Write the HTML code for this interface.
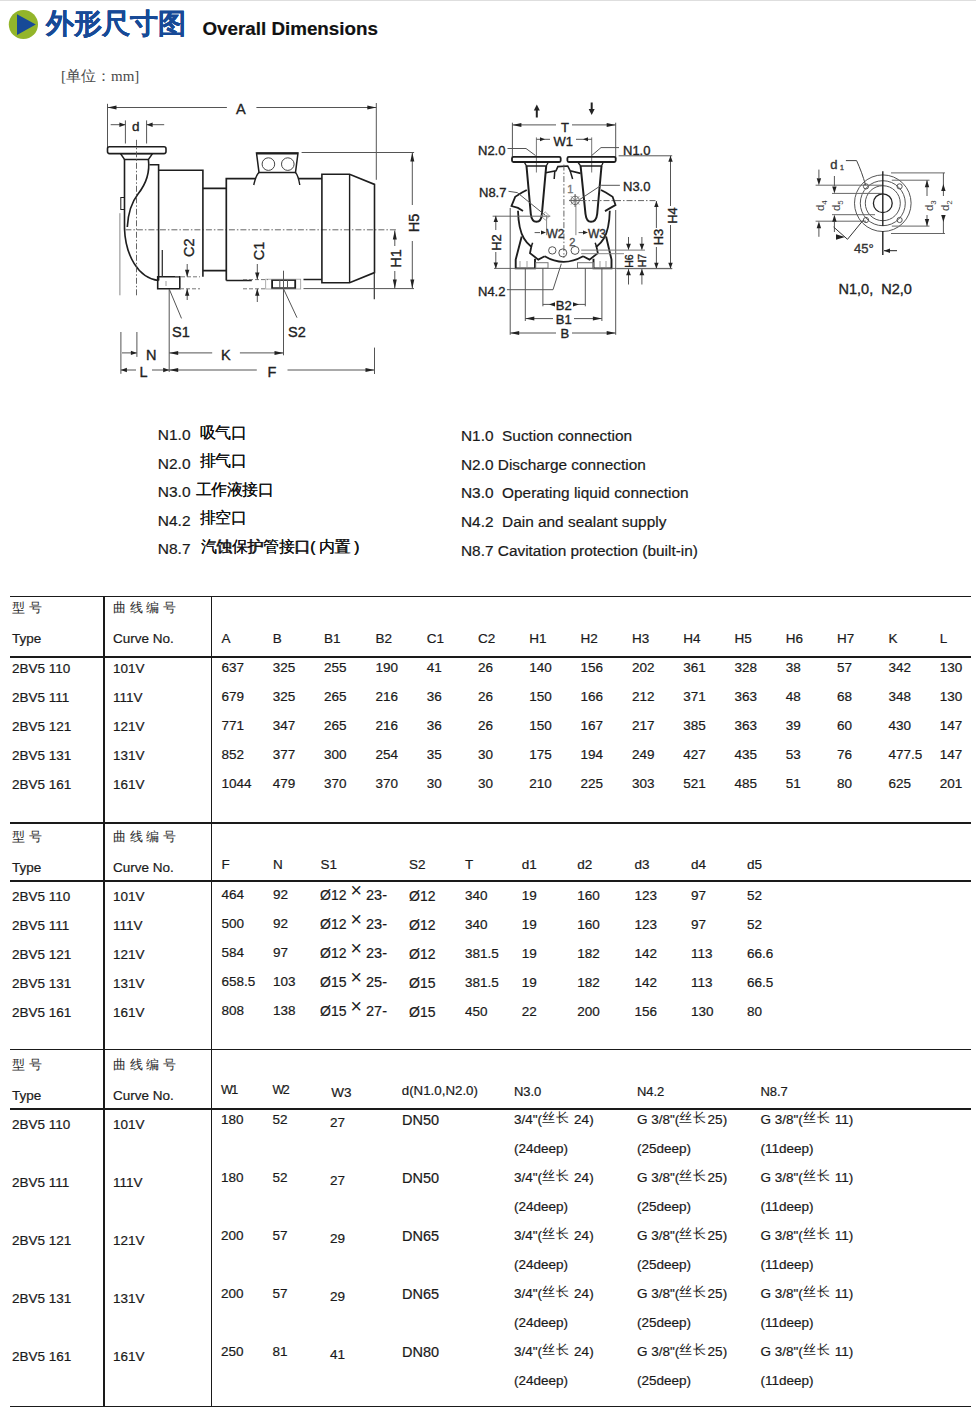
<!DOCTYPE html>
<html><head><meta charset="utf-8"><style>
html,body{margin:0;padding:0;background:#fff;}
body{width:976px;height:1417px;position:relative;overflow:hidden;font-family:"Liberation Sans",sans-serif;color:#1a1a1a;}
.t{position:absolute;white-space:nowrap;line-height:1;-webkit-text-stroke-width:0.2px;}
.l{position:absolute;}
.abs{position:absolute;}
</style></head><body>
<svg class="abs" style="left:0;top:0" width="976" height="400" font-family="Liberation Sans, sans-serif"><line x1="107.5" y1="103.8" x2="107.5" y2="147" stroke="#555" stroke-width="1.0"/><line x1="376.3" y1="103" x2="376.3" y2="179.8" stroke="#555" stroke-width="1.0"/><line x1="107.5" y1="107.5" x2="226.9" y2="107.5" stroke="#555" stroke-width="1.0"/><line x1="256.4" y1="107.5" x2="376.3" y2="107.5" stroke="#555" stroke-width="1.0"/><polygon points="107.5,107.5 116.5,105.5 116.5,109.5" fill="#222"/><polygon points="376.3,107.5 367.3,105.5 367.3,109.5" fill="#222"/><text x="236" y="113.5" font-size="14.5" fill="#222" stroke="#222" stroke-width="0.35" text-anchor="start">A</text><line x1="125.4" y1="120.4" x2="125.4" y2="143.5" stroke="#555" stroke-width="1.0"/><line x1="146.6" y1="120.4" x2="146.6" y2="143.5" stroke="#555" stroke-width="1.0"/><line x1="110.7" y1="124.7" x2="125.4" y2="124.7" stroke="#555" stroke-width="1.0"/><line x1="146.6" y1="124.7" x2="164.2" y2="124.7" stroke="#555" stroke-width="1.0"/><polygon points="125.4,124.7 119.4,122.5 119.4,126.9" fill="#222"/><polygon points="146.6,124.7 152.6,122.5 152.6,126.9" fill="#222"/><text x="132" y="131.3" font-size="13.5" fill="#222" stroke="#222" stroke-width="0.35" text-anchor="start">d</text><rect x="107.5" y="146.8" width="58.50" height="6.80" rx="2" stroke="#1e1e1e" stroke-width="1.6" fill="none"/><path d="M120.5 153.6 L152.5 153.6 L148.4 159.5 L124.6 159.5 Z" stroke="#1e1e1e" stroke-width="1.4" fill="none" /><path d="M124.5 159 L124.5 228.9 C 125.5 255, 138 278, 158.6 280.5" stroke="#1e1e1e" stroke-width="1.6" fill="none" /><path d="M148.4 159.5 C 150 172, 146 184, 138 194 C 131 203, 128 214, 127.3 227" stroke="#1e1e1e" stroke-width="1.6" fill="none" /><rect x="120.8" y="197.5" width="3.70" height="12.00" rx="0" stroke="#1e1e1e" stroke-width="1.0" fill="none"/><line x1="119.9" y1="213.2" x2="119.9" y2="295.3" stroke="#888" stroke-width="1.0"/><line x1="136.5" y1="139.8" x2="136.5" y2="296" stroke="#555" stroke-width="0.9" stroke-dasharray="6 2 1.5 2"/><line x1="125.4" y1="229.8" x2="397.5" y2="229.8" stroke="#666" stroke-width="1.0" stroke-dasharray="6 2 1.5 2"/><path d="M149.5 164.7 L158.6 164.7 L158.6 280.5" stroke="#1e1e1e" stroke-width="1.6" fill="none" /><path d="M158.6 170.2 L202.9 170.2 L202.9 276.8" stroke="#1e1e1e" stroke-width="1.6" fill="none" /><path d="M202.9 188.3 L226.3 188.3 M202.9 270.7 L226.3 270.7" stroke="#1e1e1e" stroke-width="1.8" fill="none" /><path d="M226.3 280.5 L226.3 178.7 L256 178.7 M298 178.7 L321.9 178.7" stroke="#1e1e1e" stroke-width="1.7" fill="none" /><path d="M226.3 280.5 L251.8 280.5 M303.5 279.5 L321.9 279.5" stroke="#1e1e1e" stroke-width="1.7" fill="none" /><path d="M256.5 153 L298 153 L295.5 172.4 L259 172.4 Z" stroke="#1e1e1e" stroke-width="1.5" fill="none" /><line x1="256.5" y1="153.5" x2="298" y2="153.5" stroke="#1e1e1e" stroke-width="2.2"/><circle cx="268.4" cy="164.1" r="6.3" stroke="#444" stroke-width="1.0" fill="none"/><circle cx="287.8" cy="164.1" r="6.3" stroke="#444" stroke-width="1.0" fill="none"/><path d="M259 172.4 C 256 175, 255 180, 253.7 185 M295.5 172.4 C 298 175, 299 180, 299.8 185" stroke="#1e1e1e" stroke-width="1.4" fill="none" /><path d="M321.9 174.3 L349.6 174.3 L374.5 184.4 L374.5 272.6 L349.6 282.7 L321.9 282.7 Z" stroke="#1e1e1e" stroke-width="1.6" fill="none" /><line x1="349.6" y1="174.3" x2="349.6" y2="282.7" stroke="#1e1e1e" stroke-width="1.4"/><line x1="374.3" y1="272.6" x2="374.3" y2="299.3" stroke="#333" stroke-width="1.2"/><path d="M157.7 276.8 L179.8 276.8 L179.8 288.8 L157.7 288.8 Z" stroke="#1e1e1e" stroke-width="1.6" fill="none" /><line x1="162.3" y1="250" x2="162.3" y2="276.8" stroke="#333" stroke-width="1.3"/><line x1="166" y1="281" x2="166" y2="286" stroke="#888" stroke-width="0.8"/><rect x="272.1" y="280" width="23.10" height="8.20" rx="0" stroke="#1e1e1e" stroke-width="1.8" fill="none"/><line x1="279.8" y1="280" x2="279.8" y2="288.2" stroke="#555" stroke-width="1.0"/><line x1="287.5" y1="280" x2="287.5" y2="288.2" stroke="#555" stroke-width="1.0"/><rect x="265.7" y="279.2" width="35.00" height="9.80" rx="0" stroke="#999" stroke-width="0.8" fill="none"/><line x1="303.5" y1="288.6" x2="414" y2="288.6" stroke="#555" stroke-width="1.0"/><line x1="175" y1="276.8" x2="200" y2="276.8" stroke="#777" stroke-width="1.0" stroke-dasharray="4 2"/><line x1="180" y1="288.8" x2="200" y2="288.8" stroke="#777" stroke-width="1.0" stroke-dasharray="4 2"/><line x1="243" y1="279.6" x2="268" y2="279.6" stroke="#777" stroke-width="1.0" stroke-dasharray="4 2"/><line x1="243" y1="288.8" x2="265" y2="288.8" stroke="#777" stroke-width="1.0" stroke-dasharray="4 2"/><line x1="301.6" y1="152.5" x2="414.1" y2="152.5" stroke="#555" stroke-width="1.0"/><line x1="412.3" y1="152.5" x2="412.3" y2="205" stroke="#555" stroke-width="1.0"/><line x1="412.3" y1="241" x2="412.3" y2="288.6" stroke="#555" stroke-width="1.0"/><polygon points="412.3,152.5 410.3,161.5 414.3,161.5" fill="#222"/><polygon points="412.3,288.6 410.3,279.6 414.3,279.6" fill="#222"/><text x="413.5" y="223" font-size="14.5" fill="#222" stroke="#222" stroke-width="0.35" text-anchor="middle" transform="rotate(-90 413.5 223) translate(0 5.3)">H5</text><line x1="394.8" y1="230.5" x2="394.8" y2="246" stroke="#555" stroke-width="1.0"/><line x1="394.8" y1="271" x2="394.8" y2="288.6" stroke="#555" stroke-width="1.0"/><polygon points="394.8,230.5 392.8,239.5 396.8,239.5" fill="#222"/><polygon points="394.8,288.6 392.8,279.6 396.8,279.6" fill="#222"/><text x="396" y="258.5" font-size="14.5" fill="#222" stroke="#222" stroke-width="0.35" text-anchor="middle" transform="rotate(-90 396 258.5) translate(0 5.3)">H1</text><text x="188.8" y="247.7" font-size="14.5" fill="#222" stroke="#222" stroke-width="0.35" text-anchor="middle" transform="rotate(-90 188.8 247.7) translate(0 5.3)">C2</text><line x1="187.2" y1="264" x2="187.2" y2="276.8" stroke="#555" stroke-width="1.0"/><polygon points="187.2,276.8 185.0,269.8 189.4,269.8" fill="#222"/><line x1="187.2" y1="288.8" x2="187.2" y2="300" stroke="#555" stroke-width="1.0"/><polygon points="187.2,288.8 185.0,295.8 189.4,295.8" fill="#222"/><text x="258.5" y="251" font-size="14.5" fill="#222" stroke="#222" stroke-width="0.35" text-anchor="middle" transform="rotate(-90 258.5 251) translate(0 5.3)">C1</text><line x1="257.3" y1="264" x2="257.3" y2="279.6" stroke="#555" stroke-width="1.0"/><polygon points="257.3,279.6 255.1,272.6 259.5,272.6" fill="#222"/><line x1="257.3" y1="288.8" x2="257.3" y2="302" stroke="#555" stroke-width="1.0"/><polygon points="257.3,288.8 255.1,295.8 259.5,295.8" fill="#222"/><line x1="169.2" y1="289" x2="169.2" y2="372" stroke="#555" stroke-width="1.0"/><line x1="169.2" y1="289" x2="181.5" y2="318.4" stroke="#555" stroke-width="1.0"/><text x="172" y="336.6" font-size="14.5" fill="#222" stroke="#222" stroke-width="0.35" text-anchor="start">S1</text><line x1="283.5" y1="270.7" x2="283.5" y2="355.3" stroke="#555" stroke-width="1.0"/><line x1="283.2" y1="288.2" x2="297" y2="317.7" stroke="#555" stroke-width="1.0"/><text x="288" y="336.6" font-size="14.5" fill="#222" stroke="#222" stroke-width="0.35" text-anchor="start">S2</text><line x1="120.9" y1="332" x2="120.9" y2="373.8" stroke="#555" stroke-width="1.0"/><line x1="136.9" y1="332" x2="136.9" y2="356.9" stroke="#555" stroke-width="1.0"/><line x1="122" y1="352.9" x2="136.9" y2="352.9" stroke="#555" stroke-width="1.0"/><polygon points="136.9,352.9 130.9,350.7 130.9,355.1" fill="#222"/><text x="146" y="359.6" font-size="14.5" fill="#222" stroke="#222" stroke-width="0.35" text-anchor="start">N</text><line x1="169.2" y1="352.9" x2="212.2" y2="352.9" stroke="#555" stroke-width="1.0"/><polygon points="169.2,352.9 178.2,350.9 178.2,354.9" fill="#222"/><line x1="239.9" y1="352.9" x2="283.5" y2="352.9" stroke="#555" stroke-width="1.0"/><polygon points="283.5,352.9 274.5,350.9 274.5,354.9" fill="#222"/><text x="221" y="359.6" font-size="14.5" fill="#222" stroke="#222" stroke-width="0.35" text-anchor="start">K</text><line x1="120.9" y1="370" x2="136" y2="370" stroke="#555" stroke-width="1.0"/><line x1="152" y1="370" x2="169.2" y2="370" stroke="#555" stroke-width="1.0"/><polygon points="120.9,370.0 126.9,367.8 126.9,372.2" fill="#222"/><polygon points="169.2,370.0 163.2,367.8 163.2,372.2" fill="#222"/><text x="139.5" y="376.6" font-size="14.5" fill="#222" stroke="#222" stroke-width="0.35" text-anchor="start">L</text><line x1="169.2" y1="370" x2="256.8" y2="370" stroke="#555" stroke-width="1.0"/><line x1="287.5" y1="370" x2="374.5" y2="370" stroke="#555" stroke-width="1.0"/><polygon points="169.2,370.0 178.2,368.0 178.2,372.0" fill="#222"/><polygon points="374.5,370.0 365.5,368.0 365.5,372.0" fill="#222"/><line x1="374.5" y1="347.6" x2="374.5" y2="374" stroke="#555" stroke-width="1.0"/><text x="267.5" y="376.6" font-size="14.5" fill="#222" stroke="#222" stroke-width="0.35" text-anchor="start">F</text><line x1="536.8" y1="108" x2="536.8" y2="117.5" stroke="#222" stroke-width="2.0"/><polygon points="536.8,104.5 533.8,110.5 539.8,110.5" fill="#222"/><line x1="591.7" y1="102.5" x2="591.7" y2="111" stroke="#222" stroke-width="2.0"/><polygon points="591.7,115.0 588.7,109.0 594.7,109.0" fill="#222"/><line x1="512.4" y1="122.7" x2="512.4" y2="156.8" stroke="#555" stroke-width="1.0"/><line x1="615.7" y1="122.7" x2="615.7" y2="159" stroke="#555" stroke-width="1.0"/><line x1="512.4" y1="124.9" x2="556" y2="124.9" stroke="#555" stroke-width="1.0"/><line x1="572" y1="124.9" x2="615.7" y2="124.9" stroke="#555" stroke-width="1.0"/><polygon points="512.4,124.9 521.4,122.9 521.4,126.9" fill="#222"/><polygon points="615.7,124.9 606.7,122.9 606.7,126.9" fill="#222"/><text x="561" y="132.2" font-size="13" fill="#222" stroke="#222" stroke-width="0.35" text-anchor="start">T</text><line x1="536.4" y1="137.4" x2="536.4" y2="172.5" stroke="#666" stroke-width="0.9"/><line x1="591.7" y1="137.4" x2="591.7" y2="172.5" stroke="#666" stroke-width="0.9"/><line x1="536.4" y1="139.3" x2="550" y2="139.3" stroke="#555" stroke-width="1.0"/><line x1="576" y1="139.3" x2="591.7" y2="139.3" stroke="#555" stroke-width="1.0"/><polygon points="545.0,139.3 540.0,137.3 540.0,141.3" fill="#222"/><polygon points="583.0,139.3 588.0,137.3 588.0,141.3" fill="#222"/><text x="553.5" y="146.0" font-size="13" fill="#222" stroke="#222" stroke-width="0.35" text-anchor="start">W1</text><text x="478" y="155.2" font-size="13" fill="#222" stroke="#222" stroke-width="0.35" text-anchor="start">N2.0</text><line x1="507.5" y1="148.5" x2="526" y2="148.5" stroke="#555" stroke-width="1.0"/><line x1="526" y1="148.5" x2="535.5" y2="155.5" stroke="#555" stroke-width="1.0"/><text x="623" y="155.2" font-size="13" fill="#222" stroke="#222" stroke-width="0.35" text-anchor="start">N1.0</text><line x1="619" y1="147.6" x2="601" y2="147.6" stroke="#555" stroke-width="1.0"/><line x1="601" y1="147.6" x2="591.7" y2="155.5" stroke="#555" stroke-width="1.0"/><rect x="512" y="156.8" width="48.70" height="5.20" rx="1.5" stroke="#1e1e1e" stroke-width="1.8" fill="none"/><rect x="567.4" y="156.8" width="48.30" height="5.20" rx="1.5" stroke="#1e1e1e" stroke-width="1.8" fill="none"/><line x1="618.6" y1="155.8" x2="672.2" y2="155.8" stroke="#555" stroke-width="1.0"/><path d="M524 161.7 L548.6 161.7 L546.2 166 L526.5 166 Z" stroke="#1e1e1e" stroke-width="1.3" fill="none" /><path d="M526.5 166 L530.8 214 C 531.5 220, 534 221.8, 536.4 221.8 C 539 221.8, 541.5 220, 541.9 214 L546.2 166" stroke="#1e1e1e" stroke-width="2.0" fill="none" /><path d="M580.6 166 L585.5 214 C 586.2 220, 588.5 221.8, 591 221.8 C 593.5 221.8, 596.5 220, 597.2 214 L601.5 166" stroke="#1e1e1e" stroke-width="2.0" fill="none" /><path d="M577.5 161.7 L603.5 161.7 L601.5 166 L580.6 166 Z" stroke="#1e1e1e" stroke-width="1.3" fill="none" /><path d="M526.8 190 L522 192.5 L515.2 196.8 L511.5 206 L518 207.9 L523 211.1" stroke="#1e1e1e" stroke-width="1.8" fill="none" /><path d="M518 210.7 C 518.3 222, 520 232, 524 238.5 C 526 242, 528.5 244.5, 531.3 246.7 L 530 253.1 L 538.3 259.6 L 544.7 256.3" stroke="#1e1e1e" stroke-width="1.8" fill="none" /><line x1="531.3" y1="246.7" x2="532.6" y2="242.8" stroke="#1e1e1e" stroke-width="1.5"/><path d="M601 190 L605.8 192.5 L612.6 196.8 L615.5 205 L610.5 207.9 L605 211.1" stroke="#1e1e1e" stroke-width="1.8" fill="none" /><path d="M609.8 210.7 C 609.5 222, 607.8 232, 603.8 238.5 C 601.8 242, 599.3 244.5, 596.5 246.7 L 597.8 253.1 L 589.5 259.6 L 583.1 256.3" stroke="#1e1e1e" stroke-width="1.8" fill="none" /><line x1="596.5" y1="246.7" x2="595.2" y2="242.8" stroke="#1e1e1e" stroke-width="1.5"/><path d="M545.6 172.7 L556 170.9 L557.9 166.6 L567.7 166 L570.2 170.9 L580.6 173.4" stroke="#1e1e1e" stroke-width="1.6" fill="none" /><line x1="554.8" y1="170.9" x2="554.2" y2="179" stroke="#1e1e1e" stroke-width="1.5"/><line x1="570.2" y1="170.9" x2="572.6" y2="179" stroke="#1e1e1e" stroke-width="1.5"/><path d="M544.7 256.3 Q 563.5 267.5 583.1 256.3" stroke="#1e1e1e" stroke-width="1.8" fill="none" /><path d="M521.7 236.5 L515.7 259.6 L515.7 268.4 L535 268.4 L535 258.7" stroke="#1e1e1e" stroke-width="1.9" fill="none" /><path d="M606.1 236.5 L611.5 259.6 L611.5 268.4 L593.5 268.4 L593.5 258.7" stroke="#1e1e1e" stroke-width="1.9" fill="none" /><line x1="520" y1="261" x2="520" y2="267" stroke="#888" stroke-width="0.8"/><line x1="527" y1="261" x2="527" y2="267" stroke="#888" stroke-width="0.8"/><line x1="600" y1="261" x2="600" y2="267" stroke="#888" stroke-width="0.8"/><line x1="606" y1="261" x2="606" y2="267" stroke="#888" stroke-width="0.8"/><rect x="535.7" y="262.7" width="12.30" height="5.50" rx="0" stroke="#777" stroke-width="1.0" fill="none"/><rect x="577.5" y="262.7" width="16.00" height="5.50" rx="0" stroke="#777" stroke-width="1.0" fill="none"/><circle cx="552.3" cy="250.4" r="3.7" stroke="#555" stroke-width="1.0" fill="none"/><circle cx="562.8" cy="252.9" r="4" stroke="#555" stroke-width="1.0" fill="none"/><circle cx="575" cy="250.4" r="4" stroke="#555" stroke-width="1.0" fill="none"/><line x1="494" y1="268.4" x2="672.2" y2="268.4" stroke="#666" stroke-width="1.0"/><line x1="492.6" y1="216.2" x2="550.3" y2="216.2" stroke="#666" stroke-width="1.0"/><line x1="495.8" y1="215.9" x2="495.8" y2="230" stroke="#555" stroke-width="1.0"/><line x1="495.8" y1="252" x2="495.8" y2="268.4" stroke="#555" stroke-width="1.0"/><polygon points="495.8,215.9 493.6,221.9 498.0,221.9" fill="#222"/><polygon points="495.8,268.4 493.6,262.4 498.0,262.4" fill="#222"/><text x="495.9" y="242.5" font-size="13" fill="#222" stroke="#222" stroke-width="0.35" text-anchor="middle" transform="rotate(-90 495.9 242.5) translate(0 4.7)">H2</text><line x1="563.9" y1="164.6" x2="563.9" y2="258" stroke="#555" stroke-width="0.9" stroke-dasharray="6 2 1.5 2"/><text x="567.3" y="192.6" font-size="11" fill="#777" stroke="#777" stroke-width="0.35" text-anchor="0">1</text><circle cx="575.1" cy="200.4" r="4.2" stroke="#666" stroke-width="1.0" fill="none"/><line x1="569" y1="200.4" x2="581" y2="200.4" stroke="#555" stroke-width="1.0"/><line x1="575.1" y1="194" x2="575.1" y2="207" stroke="#555" stroke-width="1.0"/><line x1="571" y1="196.3" x2="579.2" y2="204.5" stroke="#666" stroke-width="0.8"/><line x1="579.2" y1="196.3" x2="571" y2="204.5" stroke="#666" stroke-width="0.8"/><line x1="569" y1="200.6" x2="657.6" y2="200.6" stroke="#666" stroke-width="1.0" stroke-dasharray="6 2 1.5 2"/><line x1="546.6" y1="215.3" x2="546.6" y2="235.2" stroke="#777" stroke-width="0.9"/><line x1="534.6" y1="232.6" x2="540" y2="232.6" stroke="#555" stroke-width="1.0"/><polygon points="546.0,232.6 541.0,230.6 541.0,234.6" fill="#222"/><text x="546.5" y="237.9" font-size="12" fill="#333" stroke="#333" stroke-width="0.35" text-anchor="0.2">W2</text><line x1="575.9" y1="203.3" x2="575.9" y2="235.2" stroke="#777" stroke-width="0.9"/><line x1="578.6" y1="232.6" x2="584" y2="232.6" stroke="#555" stroke-width="1.0"/><polygon points="588.0,232.6 583.0,230.6 583.0,234.6" fill="#222"/><text x="588" y="237.9" font-size="12" fill="#333" stroke="#333" stroke-width="0.35" text-anchor="0.2">W3</text><text x="569.3" y="245.9" font-size="11" fill="#555" stroke="#555" stroke-width="0.35" text-anchor="0.1">2</text><text x="479" y="196.7" font-size="13" fill="#222" stroke="#222" stroke-width="0.35" text-anchor="start">N8.7</text><line x1="508.5" y1="191.3" x2="517.3" y2="192.6" stroke="#555" stroke-width="1.0"/><line x1="517.3" y1="192.6" x2="545.3" y2="215.3" stroke="#555" stroke-width="1.0"/><path d="M545.3 212 L549.5 216 L545.3 220 L541 216 Z" stroke="#888" stroke-width="0.8" fill="none" /><text x="623" y="191.2" font-size="13" fill="#222" stroke="#222" stroke-width="0.35" text-anchor="start">N3.0</text><line x1="619.9" y1="185.3" x2="601.2" y2="185.3" stroke="#555" stroke-width="1.0"/><line x1="601.2" y1="185.3" x2="580" y2="199.3" stroke="#555" stroke-width="1.0"/><text x="478" y="295.5" font-size="13" fill="#222" stroke="#222" stroke-width="0.35" text-anchor="start">N4.2</text><line x1="506.9" y1="289.7" x2="553" y2="289.7" stroke="#555" stroke-width="1.0"/><line x1="553" y1="289.7" x2="561.3" y2="263.8" stroke="#555" stroke-width="1.0"/><line x1="510.2" y1="208" x2="510.2" y2="334.8" stroke="#555" stroke-width="1.0"/><line x1="615.7" y1="210" x2="615.7" y2="334.8" stroke="#555" stroke-width="1.0"/><line x1="510.2" y1="333" x2="556" y2="333" stroke="#555" stroke-width="1.0"/><line x1="572" y1="333" x2="615.7" y2="333" stroke="#555" stroke-width="1.0"/><polygon points="510.2,333.0 519.2,331.0 519.2,335.0" fill="#222"/><polygon points="615.7,333.0 606.7,331.0 606.7,335.0" fill="#222"/><text x="560.4" y="337.9" font-size="13" fill="#222" stroke="#222" stroke-width="0.35" text-anchor="start">B</text><line x1="525.3" y1="268" x2="525.3" y2="321" stroke="#555" stroke-width="1.0"/><line x1="601.9" y1="268" x2="601.9" y2="321" stroke="#555" stroke-width="1.0"/><line x1="525.3" y1="318.6" x2="553" y2="318.6" stroke="#555" stroke-width="1.0"/><line x1="574" y1="318.6" x2="601.9" y2="318.6" stroke="#555" stroke-width="1.0"/><polygon points="525.3,318.6 534.3,316.6 534.3,320.6" fill="#222"/><polygon points="601.9,318.6 592.9,316.6 592.9,320.6" fill="#222"/><text x="555.8" y="324.1" font-size="13" fill="#222" stroke="#222" stroke-width="0.35" text-anchor="start">B1</text><line x1="542.9" y1="268" x2="542.9" y2="306.3" stroke="#555" stroke-width="1.0"/><line x1="585.3" y1="268" x2="585.3" y2="306.3" stroke="#555" stroke-width="1.0"/><line x1="542.9" y1="304.4" x2="553" y2="304.4" stroke="#555" stroke-width="1.0"/><line x1="574" y1="304.4" x2="585.3" y2="304.4" stroke="#555" stroke-width="1.0"/><polygon points="549.0,304.4 555.0,302.2 555.0,306.6" fill="#222"/><polygon points="579.0,304.4 573.0,302.2 573.0,306.6" fill="#222"/><text x="555.8" y="310.2" font-size="13" fill="#222" stroke="#222" stroke-width="0.35" text-anchor="start">B2</text><line x1="656.4" y1="201" x2="656.4" y2="228" stroke="#555" stroke-width="1.0"/><line x1="656.4" y1="247" x2="656.4" y2="268.7" stroke="#555" stroke-width="1.0"/><polygon points="656.4,201.0 654.2,207.0 658.6,207.0" fill="#222"/><polygon points="656.4,268.7 654.2,262.7 658.6,262.7" fill="#222"/><text x="658" y="237" font-size="13" fill="#222" stroke="#222" stroke-width="0.35" text-anchor="middle" transform="rotate(-90 658 237) translate(0 4.7)">H3</text><line x1="670.5" y1="155.8" x2="670.5" y2="206" stroke="#555" stroke-width="1.0"/><line x1="670.5" y1="225" x2="670.5" y2="268.7" stroke="#555" stroke-width="1.0"/><polygon points="670.5,155.8 668.3,161.8 672.7,161.8" fill="#222"/><polygon points="670.5,268.7 668.3,262.7 672.7,262.7" fill="#222"/><text x="672" y="215.5" font-size="13" fill="#222" stroke="#222" stroke-width="0.35" text-anchor="middle" transform="rotate(-90 672 215.5) translate(0 4.7)">H4</text><line x1="581.2" y1="250.1" x2="645" y2="250.1" stroke="#777" stroke-width="1.0"/><line x1="581.2" y1="253.7" x2="624" y2="253.7" stroke="#888" stroke-width="1.0"/><line x1="628.5" y1="237" x2="628.5" y2="249.5" stroke="#555" stroke-width="1.0"/><polygon points="628.5,249.8 626.1,243.8 630.9,243.8" fill="#222"/><line x1="628.5" y1="268.7" x2="628.5" y2="284.5" stroke="#555" stroke-width="1.0"/><polygon points="628.5,269.3 626.1,275.3 630.9,275.3" fill="#222"/><text x="629.3" y="261" font-size="10.5" fill="#222" stroke="#222" stroke-width="0.35" text-anchor="middle" transform="rotate(-90 629.3 261) translate(0 3.8)">H6</text><line x1="641.9" y1="237" x2="641.9" y2="249.5" stroke="#555" stroke-width="1.0"/><polygon points="641.9,249.8 639.5,243.8 644.3,243.8" fill="#222"/><line x1="641.9" y1="268.7" x2="641.9" y2="284.5" stroke="#555" stroke-width="1.0"/><polygon points="641.9,269.3 639.5,275.3 644.3,275.3" fill="#222"/><text x="642.3" y="260.5" font-size="10.5" fill="#222" stroke="#222" stroke-width="0.35" text-anchor="middle" transform="rotate(-90 642.3 260.5) translate(0 3.8)">H7</text><line x1="617" y1="268.7" x2="672.2" y2="268.7" stroke="#666" stroke-width="1.0"/><circle cx="882.8" cy="203.2" r="28.3" stroke="#555" stroke-width="1.0" fill="none"/><circle cx="882.8" cy="203.2" r="22.5" stroke="#555" stroke-width="1.0" fill="none"/><circle cx="882.8" cy="203.2" r="17.5" stroke="#555" stroke-width="1.0" fill="none"/><circle cx="882.8" cy="203.2" r="9.4" stroke="#222" stroke-width="1.3" fill="none"/><circle cx="866.0" cy="186.39999999999998" r="2.6" stroke="#555" stroke-width="1.0" fill="none"/><circle cx="899.5999999999999" cy="186.39999999999998" r="2.6" stroke="#555" stroke-width="1.0" fill="none"/><circle cx="866.0" cy="220.0" r="2.6" stroke="#555" stroke-width="1.0" fill="none"/><circle cx="899.5999999999999" cy="220.0" r="2.6" stroke="#555" stroke-width="1.0" fill="none"/><line x1="882.8" y1="171.2" x2="882.8" y2="226" stroke="#222" stroke-width="1.4"/><line x1="882.8" y1="231" x2="882.8" y2="255" stroke="#222" stroke-width="1.4"/><line x1="884" y1="250.7" x2="897" y2="250.7" stroke="#222" stroke-width="1.0"/><polygon points="884.0,250.7 890.0,248.5 890.0,252.9" fill="#222"/><text x="830.3" y="168.5" font-size="13" fill="#333" stroke="#333" stroke-width="0.35" text-anchor="0.1">d</text><text x="840" y="170.1" font-size="7" fill="#444" stroke="#444" stroke-width="0.35" text-anchor="0">1</text><path d="M845.9 160.6 L856.6 160.6 C 860 168, 863 176, 865.6 185.2" stroke="#444" stroke-width="1.0" fill="none" /><line x1="815.6" y1="185.2" x2="882" y2="185.2" stroke="#666" stroke-width="1.0"/><line x1="815.6" y1="221.2" x2="866" y2="221.2" stroke="#666" stroke-width="1.0"/><line x1="818.9" y1="169.6" x2="818.9" y2="178" stroke="#555" stroke-width="1.0"/><polygon points="818.9,185.2 816.7,178.2 821.1,178.2" fill="#222"/><line x1="818.9" y1="228" x2="818.9" y2="236.8" stroke="#555" stroke-width="1.0"/><polygon points="818.9,221.2 816.7,228.2 821.1,228.2" fill="#222"/><text x="820" y="205.6" font-size="11.5" fill="#333" stroke="#333" stroke-width="0" text-anchor="middle" transform="rotate(-90 820 205.6) translate(0 4.2)">d<tspan font-size="8" dy="3">4</tspan></text><line x1="832" y1="193.4" x2="882" y2="193.4" stroke="#666" stroke-width="1.0"/><line x1="832" y1="214.7" x2="875" y2="214.7" stroke="#666" stroke-width="1.0"/><line x1="834.4" y1="176" x2="834.4" y2="186" stroke="#555" stroke-width="1.0"/><polygon points="834.4,193.4 832.2,186.4 836.6,186.4" fill="#222"/><line x1="834.4" y1="222" x2="834.4" y2="232" stroke="#555" stroke-width="1.0"/><polygon points="834.4,214.7 832.2,221.7 836.6,221.7" fill="#222"/><text x="835.8" y="205.6" font-size="11.5" fill="#333" stroke="#333" stroke-width="0" text-anchor="middle" transform="rotate(-90 835.8 205.6) translate(0 4.2)">d<tspan font-size="8" dy="3">5</tspan></text><line x1="833.6" y1="227" x2="847.5" y2="239.3" stroke="#333" stroke-width="1.0"/><line x1="847.5" y1="239.3" x2="863" y2="220.4" stroke="#333" stroke-width="1.0"/><polygon points="845.0,237.0 836.0,234.2 836.0,239.8" fill="#222"/><text x="854" y="252.9" font-size="13" fill="#333" stroke="#333" stroke-width="0.35" text-anchor="0.1">45°</text><line x1="891.8" y1="180.2" x2="929.5" y2="180.2" stroke="#666" stroke-width="1.0"/><line x1="891.8" y1="226.1" x2="929.5" y2="226.1" stroke="#666" stroke-width="1.0"/><line x1="927" y1="180.2" x2="927" y2="196" stroke="#555" stroke-width="1.0"/><line x1="927" y1="215" x2="927" y2="226.1" stroke="#555" stroke-width="1.0"/><polygon points="927.0,180.2 924.8,187.2 929.2,187.2" fill="#222"/><polygon points="927.0,226.1 924.8,219.1 929.2,219.1" fill="#222"/><text x="928.5" y="205.6" font-size="11.5" fill="#333" stroke="#333" stroke-width="0" text-anchor="middle" transform="rotate(-90 928.5 205.6) translate(0 4.2)">d<tspan font-size="8" dy="3">3</tspan></text><line x1="891" y1="172.9" x2="945" y2="172.9" stroke="#666" stroke-width="1.0"/><line x1="891" y1="233.5" x2="945" y2="233.5" stroke="#666" stroke-width="1.0"/><line x1="943.4" y1="172.9" x2="943.4" y2="196" stroke="#555" stroke-width="1.0"/><line x1="943.4" y1="215" x2="943.4" y2="233.5" stroke="#555" stroke-width="1.0"/><polygon points="943.4,184.0 941.2,191.0 945.6,191.0" fill="#222"/><polygon points="943.4,222.0 941.2,215.0 945.6,215.0" fill="#222"/><text x="945" y="205.6" font-size="11.5" fill="#333" stroke="#333" stroke-width="0" text-anchor="middle" transform="rotate(-90 945 205.6) translate(0 4.2)">d<tspan font-size="8" dy="3">2</tspan></text><text x="838.5" y="293.6" font-size="14.5" fill="#222" stroke="#222" stroke-width="0.35" text-anchor="0.2">N1,0,&nbsp; N2,0</text></svg>
<div class="l" style="left:0;top:0;width:976px;height:1px;background:#dedede"></div>
<svg class="abs" style="left:0;top:0" width="60" height="50"><circle cx="23.4" cy="24.5" r="14.6" fill="#93b52a"/><path d="M17 14.2 L35.8 24.6 L17 35 Z" fill="#174a97"/></svg>
<span class="t cjk" style="left:45.5px;top:10.2px;font-size:27.8px;font-weight:bold;color:#174a97;-webkit-text-stroke-width:0;text-shadow:0.7px 0 0 #174a97,0 0.3px 0 #174a97;">外形尺寸图</span>
<span class="t " style="left:202.5px;top:20.1px;font-size:18.8px;font-weight:bold;color:#111;">Overall Dimensions</span>
<span class="t" style="left:61px;top:69px;font-size:15px;line-height:1;font-family:'Liberation Serif',serif;color:#4a4a4a;-webkit-text-stroke-width:0">[单位：mm]</span>
<span class="t " style="left:157.8px;top:427.0px;font-size:15.5px;color:#1a1a1a">N1.0</span>
<span class="t " style="left:199.5px;top:424.5px;font-size:15.5px;color:#111;-webkit-text-stroke-width:0;text-shadow:0.35px 0 0 #111;letter-spacing:-0.5px">吸气口</span>
<span class="t " style="left:157.8px;top:455.6px;font-size:15.5px;color:#1a1a1a">N2.0</span>
<span class="t " style="left:199.5px;top:453.1px;font-size:15.5px;color:#111;-webkit-text-stroke-width:0;text-shadow:0.35px 0 0 #111;letter-spacing:-0.5px">排气口</span>
<span class="t " style="left:157.8px;top:484.2px;font-size:15.5px;color:#1a1a1a">N3.0</span>
<span class="t " style="left:195.5px;top:481.7px;font-size:15.5px;color:#111;-webkit-text-stroke-width:0;text-shadow:0.35px 0 0 #111;letter-spacing:-0.5px">工作液接口</span>
<span class="t " style="left:157.8px;top:512.8px;font-size:15.5px;color:#1a1a1a">N4.2</span>
<span class="t " style="left:199.5px;top:510.3px;font-size:15.5px;color:#111;-webkit-text-stroke-width:0;text-shadow:0.35px 0 0 #111;letter-spacing:-0.5px">排空口</span>
<span class="t " style="left:157.8px;top:541.4px;font-size:15.5px;color:#1a1a1a">N8.7</span>
<span class="t " style="left:200.5px;top:538.9px;font-size:15.5px;color:#111;-webkit-text-stroke-width:0;text-shadow:0.35px 0 0 #111;letter-spacing:-0.35px">汽蚀保护管接口( 内置 )</span>
<span class="t " style="left:461.0px;top:428.2px;font-size:15.4px;color:#1a1a1a">N1.0&nbsp; Suction connection</span>
<span class="t " style="left:461.0px;top:456.8px;font-size:15.4px;color:#1a1a1a">N2.0 Discharge connection</span>
<span class="t " style="left:461.0px;top:485.4px;font-size:15.4px;color:#1a1a1a">N3.0&nbsp; Operating liquid connection</span>
<span class="t " style="left:461.0px;top:514.0px;font-size:15.4px;color:#1a1a1a">N4.2&nbsp; Dain and sealant supply</span>
<span class="t " style="left:461.0px;top:542.6px;font-size:15.4px;color:#1a1a1a">N8.7 Cavitation protection (built-in)</span>
<div class="l" style="left:9.5px;top:595.60px;width:961.5px;height:1.6px;background:#1a1a1a"></div>
<div class="l" style="left:9.5px;top:656.20px;width:961.5px;height:1.6px;background:#1a1a1a"></div>
<div class="l" style="left:9.5px;top:822.10px;width:961.5px;height:1.6px;background:#1a1a1a"></div>
<div class="l" style="left:9.5px;top:880.30px;width:961.5px;height:1.6px;background:#1a1a1a"></div>
<div class="l" style="left:9.5px;top:1048.60px;width:961.5px;height:1.6px;background:#1a1a1a"></div>
<div class="l" style="left:9.5px;top:1108.00px;width:961.5px;height:1.6px;background:#1a1a1a"></div>
<div class="l" style="left:9.5px;top:1405.60px;width:961.5px;height:1.6px;background:#1a1a1a"></div>
<div class="l" style="left:103.00px;top:596.4px;width:1.6px;height:810.0000000000001px;background:#1a1a1a"></div>
<div class="l" style="left:210.70px;top:596.4px;width:1.6px;height:810.0000000000001px;background:#1a1a1a"></div>
<span class="t cjk" style="left:12.0px;top:600.5px;font-size:13px;color:#2a2a2a;-webkit-text-stroke-width:0">型&nbsp;号</span>
<span class="t cjk" style="left:113.0px;top:600.5px;font-size:13px;color:#2a2a2a;-webkit-text-stroke-width:0">曲&nbsp;线&nbsp;编&nbsp;号</span>
<span class="t " style="left:12.0px;top:631.9px;font-size:13.5px;">Type</span>
<span class="t " style="left:113.0px;top:631.9px;font-size:13.5px;">Curve No.</span>
<span class="t " style="left:221.5px;top:632.4px;font-size:13.5px;">A</span>
<span class="t " style="left:272.8px;top:632.4px;font-size:13.5px;">B</span>
<span class="t " style="left:324.1px;top:632.4px;font-size:13.5px;">B1</span>
<span class="t " style="left:375.4px;top:632.4px;font-size:13.5px;">B2</span>
<span class="t " style="left:426.7px;top:632.4px;font-size:13.5px;">C1</span>
<span class="t " style="left:478.0px;top:632.4px;font-size:13.5px;">C2</span>
<span class="t " style="left:529.3px;top:632.4px;font-size:13.5px;">H1</span>
<span class="t " style="left:580.6px;top:632.4px;font-size:13.5px;">H2</span>
<span class="t " style="left:631.9px;top:632.4px;font-size:13.5px;">H3</span>
<span class="t " style="left:683.2px;top:632.4px;font-size:13.5px;">H4</span>
<span class="t " style="left:734.5px;top:632.4px;font-size:13.5px;">H5</span>
<span class="t " style="left:785.8px;top:632.4px;font-size:13.5px;">H6</span>
<span class="t " style="left:837.1px;top:632.4px;font-size:13.5px;">H7</span>
<span class="t " style="left:888.4px;top:632.4px;font-size:13.5px;">K</span>
<span class="t " style="left:939.7px;top:632.4px;font-size:13.5px;">L</span>
<span class="t " style="left:12.0px;top:661.6px;font-size:13.5px;">2BV5 110</span>
<span class="t " style="left:113.0px;top:661.6px;font-size:13.5px;">101V</span>
<span class="t " style="left:221.5px;top:660.9px;font-size:13.5px;">637</span>
<span class="t " style="left:272.8px;top:660.9px;font-size:13.5px;">325</span>
<span class="t " style="left:324.1px;top:660.9px;font-size:13.5px;">255</span>
<span class="t " style="left:375.4px;top:660.9px;font-size:13.5px;">190</span>
<span class="t " style="left:426.7px;top:660.9px;font-size:13.5px;">41</span>
<span class="t " style="left:478.0px;top:660.9px;font-size:13.5px;">26</span>
<span class="t " style="left:529.3px;top:660.9px;font-size:13.5px;">140</span>
<span class="t " style="left:580.6px;top:660.9px;font-size:13.5px;">156</span>
<span class="t " style="left:631.9px;top:660.9px;font-size:13.5px;">202</span>
<span class="t " style="left:683.2px;top:660.9px;font-size:13.5px;">361</span>
<span class="t " style="left:734.5px;top:660.9px;font-size:13.5px;">328</span>
<span class="t " style="left:785.8px;top:660.9px;font-size:13.5px;">38</span>
<span class="t " style="left:837.1px;top:660.9px;font-size:13.5px;">57</span>
<span class="t " style="left:888.4px;top:660.9px;font-size:13.5px;">342</span>
<span class="t " style="left:939.7px;top:660.9px;font-size:13.5px;">130</span>
<span class="t " style="left:12.0px;top:690.6px;font-size:13.5px;">2BV5 111</span>
<span class="t " style="left:113.0px;top:690.6px;font-size:13.5px;">111V</span>
<span class="t " style="left:221.5px;top:689.9px;font-size:13.5px;">679</span>
<span class="t " style="left:272.8px;top:689.9px;font-size:13.5px;">325</span>
<span class="t " style="left:324.1px;top:689.9px;font-size:13.5px;">265</span>
<span class="t " style="left:375.4px;top:689.9px;font-size:13.5px;">216</span>
<span class="t " style="left:426.7px;top:689.9px;font-size:13.5px;">36</span>
<span class="t " style="left:478.0px;top:689.9px;font-size:13.5px;">26</span>
<span class="t " style="left:529.3px;top:689.9px;font-size:13.5px;">150</span>
<span class="t " style="left:580.6px;top:689.9px;font-size:13.5px;">166</span>
<span class="t " style="left:631.9px;top:689.9px;font-size:13.5px;">212</span>
<span class="t " style="left:683.2px;top:689.9px;font-size:13.5px;">371</span>
<span class="t " style="left:734.5px;top:689.9px;font-size:13.5px;">363</span>
<span class="t " style="left:785.8px;top:689.9px;font-size:13.5px;">48</span>
<span class="t " style="left:837.1px;top:689.9px;font-size:13.5px;">68</span>
<span class="t " style="left:888.4px;top:689.9px;font-size:13.5px;">348</span>
<span class="t " style="left:939.7px;top:689.9px;font-size:13.5px;">130</span>
<span class="t " style="left:12.0px;top:719.6px;font-size:13.5px;">2BV5 121</span>
<span class="t " style="left:113.0px;top:719.6px;font-size:13.5px;">121V</span>
<span class="t " style="left:221.5px;top:718.9px;font-size:13.5px;">771</span>
<span class="t " style="left:272.8px;top:718.9px;font-size:13.5px;">347</span>
<span class="t " style="left:324.1px;top:718.9px;font-size:13.5px;">265</span>
<span class="t " style="left:375.4px;top:718.9px;font-size:13.5px;">216</span>
<span class="t " style="left:426.7px;top:718.9px;font-size:13.5px;">36</span>
<span class="t " style="left:478.0px;top:718.9px;font-size:13.5px;">26</span>
<span class="t " style="left:529.3px;top:718.9px;font-size:13.5px;">150</span>
<span class="t " style="left:580.6px;top:718.9px;font-size:13.5px;">167</span>
<span class="t " style="left:631.9px;top:718.9px;font-size:13.5px;">217</span>
<span class="t " style="left:683.2px;top:718.9px;font-size:13.5px;">385</span>
<span class="t " style="left:734.5px;top:718.9px;font-size:13.5px;">363</span>
<span class="t " style="left:785.8px;top:718.9px;font-size:13.5px;">39</span>
<span class="t " style="left:837.1px;top:718.9px;font-size:13.5px;">60</span>
<span class="t " style="left:888.4px;top:718.9px;font-size:13.5px;">430</span>
<span class="t " style="left:939.7px;top:718.9px;font-size:13.5px;">147</span>
<span class="t " style="left:12.0px;top:748.6px;font-size:13.5px;">2BV5 131</span>
<span class="t " style="left:113.0px;top:748.6px;font-size:13.5px;">131V</span>
<span class="t " style="left:221.5px;top:747.9px;font-size:13.5px;">852</span>
<span class="t " style="left:272.8px;top:747.9px;font-size:13.5px;">377</span>
<span class="t " style="left:324.1px;top:747.9px;font-size:13.5px;">300</span>
<span class="t " style="left:375.4px;top:747.9px;font-size:13.5px;">254</span>
<span class="t " style="left:426.7px;top:747.9px;font-size:13.5px;">35</span>
<span class="t " style="left:478.0px;top:747.9px;font-size:13.5px;">30</span>
<span class="t " style="left:529.3px;top:747.9px;font-size:13.5px;">175</span>
<span class="t " style="left:580.6px;top:747.9px;font-size:13.5px;">194</span>
<span class="t " style="left:631.9px;top:747.9px;font-size:13.5px;">249</span>
<span class="t " style="left:683.2px;top:747.9px;font-size:13.5px;">427</span>
<span class="t " style="left:734.5px;top:747.9px;font-size:13.5px;">435</span>
<span class="t " style="left:785.8px;top:747.9px;font-size:13.5px;">53</span>
<span class="t " style="left:837.1px;top:747.9px;font-size:13.5px;">76</span>
<span class="t " style="left:888.4px;top:747.9px;font-size:13.5px;">477.5</span>
<span class="t " style="left:939.7px;top:747.9px;font-size:13.5px;">147</span>
<span class="t " style="left:12.0px;top:777.6px;font-size:13.5px;">2BV5 161</span>
<span class="t " style="left:113.0px;top:777.6px;font-size:13.5px;">161V</span>
<span class="t " style="left:221.5px;top:776.9px;font-size:13.5px;">1044</span>
<span class="t " style="left:272.8px;top:776.9px;font-size:13.5px;">479</span>
<span class="t " style="left:324.1px;top:776.9px;font-size:13.5px;">370</span>
<span class="t " style="left:375.4px;top:776.9px;font-size:13.5px;">370</span>
<span class="t " style="left:426.7px;top:776.9px;font-size:13.5px;">30</span>
<span class="t " style="left:478.0px;top:776.9px;font-size:13.5px;">30</span>
<span class="t " style="left:529.3px;top:776.9px;font-size:13.5px;">210</span>
<span class="t " style="left:580.6px;top:776.9px;font-size:13.5px;">225</span>
<span class="t " style="left:631.9px;top:776.9px;font-size:13.5px;">303</span>
<span class="t " style="left:683.2px;top:776.9px;font-size:13.5px;">521</span>
<span class="t " style="left:734.5px;top:776.9px;font-size:13.5px;">485</span>
<span class="t " style="left:785.8px;top:776.9px;font-size:13.5px;">51</span>
<span class="t " style="left:837.1px;top:776.9px;font-size:13.5px;">80</span>
<span class="t " style="left:888.4px;top:776.9px;font-size:13.5px;">625</span>
<span class="t " style="left:939.7px;top:776.9px;font-size:13.5px;">201</span>
<span class="t cjk" style="left:12.0px;top:830.0px;font-size:13px;color:#2a2a2a;-webkit-text-stroke-width:0">型&nbsp;号</span>
<span class="t cjk" style="left:113.0px;top:830.0px;font-size:13px;color:#2a2a2a;-webkit-text-stroke-width:0">曲&nbsp;线&nbsp;编&nbsp;号</span>
<span class="t " style="left:12.0px;top:861.1px;font-size:13.5px;">Type</span>
<span class="t " style="left:113.0px;top:861.1px;font-size:13.5px;">Curve No.</span>
<span class="t " style="left:221.5px;top:858.4px;font-size:13.5px;">F</span>
<span class="t " style="left:272.9px;top:858.4px;font-size:13.5px;">N</span>
<span class="t " style="left:320.5px;top:858.4px;font-size:13.5px;">S1</span>
<span class="t " style="left:409.0px;top:858.4px;font-size:13.5px;">S2</span>
<span class="t " style="left:465.0px;top:858.4px;font-size:13.5px;">T</span>
<span class="t " style="left:521.7px;top:858.4px;font-size:13.5px;">d1</span>
<span class="t " style="left:577.3px;top:858.4px;font-size:13.5px;">d2</span>
<span class="t " style="left:634.6px;top:858.4px;font-size:13.5px;">d3</span>
<span class="t " style="left:691.0px;top:858.4px;font-size:13.5px;">d4</span>
<span class="t " style="left:747.0px;top:858.4px;font-size:13.5px;">d5</span>
<span class="t " style="left:12.0px;top:890.4px;font-size:13.5px;">2BV5 110</span>
<span class="t " style="left:113.0px;top:890.4px;font-size:13.5px;">101V</span>
<span class="t " style="left:221.5px;top:887.9px;font-size:13.5px;">464</span>
<span class="t " style="left:272.9px;top:887.9px;font-size:13.5px;">92</span>
<span class="t " style="left:320.0px;top:888.4px;font-size:14px;">Ø12</span>
<span class="t " style="left:350.5px;top:881.0px;font-size:19.5px;-webkit-text-stroke-width:0;color:#222">×</span>
<span class="t " style="left:366.0px;top:888.1px;font-size:14.5px;">23-</span>
<span class="t " style="left:409.0px;top:889.4px;font-size:14px;">Ø12</span>
<span class="t " style="left:465.0px;top:888.9px;font-size:13.5px;">340</span>
<span class="t " style="left:521.7px;top:888.9px;font-size:13.5px;">19</span>
<span class="t " style="left:577.3px;top:888.9px;font-size:13.5px;">160</span>
<span class="t " style="left:634.6px;top:888.9px;font-size:13.5px;">123</span>
<span class="t " style="left:691.0px;top:888.9px;font-size:13.5px;">97</span>
<span class="t " style="left:747.0px;top:888.9px;font-size:13.5px;">52</span>
<span class="t " style="left:12.0px;top:919.4px;font-size:13.5px;">2BV5 111</span>
<span class="t " style="left:113.0px;top:919.4px;font-size:13.5px;">111V</span>
<span class="t " style="left:221.5px;top:916.9px;font-size:13.5px;">500</span>
<span class="t " style="left:272.9px;top:916.9px;font-size:13.5px;">92</span>
<span class="t " style="left:320.0px;top:917.4px;font-size:14px;">Ø12</span>
<span class="t " style="left:350.5px;top:910.0px;font-size:19.5px;-webkit-text-stroke-width:0;color:#222">×</span>
<span class="t " style="left:366.0px;top:917.1px;font-size:14.5px;">23-</span>
<span class="t " style="left:409.0px;top:918.4px;font-size:14px;">Ø12</span>
<span class="t " style="left:465.0px;top:917.9px;font-size:13.5px;">340</span>
<span class="t " style="left:521.7px;top:917.9px;font-size:13.5px;">19</span>
<span class="t " style="left:577.3px;top:917.9px;font-size:13.5px;">160</span>
<span class="t " style="left:634.6px;top:917.9px;font-size:13.5px;">123</span>
<span class="t " style="left:691.0px;top:917.9px;font-size:13.5px;">97</span>
<span class="t " style="left:747.0px;top:917.9px;font-size:13.5px;">52</span>
<span class="t " style="left:12.0px;top:948.4px;font-size:13.5px;">2BV5 121</span>
<span class="t " style="left:113.0px;top:948.4px;font-size:13.5px;">121V</span>
<span class="t " style="left:221.5px;top:945.9px;font-size:13.5px;">584</span>
<span class="t " style="left:272.9px;top:945.9px;font-size:13.5px;">97</span>
<span class="t " style="left:320.0px;top:946.4px;font-size:14px;">Ø12</span>
<span class="t " style="left:350.5px;top:939.0px;font-size:19.5px;-webkit-text-stroke-width:0;color:#222">×</span>
<span class="t " style="left:366.0px;top:946.1px;font-size:14.5px;">23-</span>
<span class="t " style="left:409.0px;top:947.4px;font-size:14px;">Ø12</span>
<span class="t " style="left:465.0px;top:946.9px;font-size:13.5px;">381.5</span>
<span class="t " style="left:521.7px;top:946.9px;font-size:13.5px;">19</span>
<span class="t " style="left:577.3px;top:946.9px;font-size:13.5px;">182</span>
<span class="t " style="left:634.6px;top:946.9px;font-size:13.5px;">142</span>
<span class="t " style="left:691.0px;top:946.9px;font-size:13.5px;">113</span>
<span class="t " style="left:747.0px;top:946.9px;font-size:13.5px;">66.6</span>
<span class="t " style="left:12.0px;top:977.4px;font-size:13.5px;">2BV5 131</span>
<span class="t " style="left:113.0px;top:977.4px;font-size:13.5px;">131V</span>
<span class="t " style="left:221.5px;top:974.9px;font-size:13.5px;">658.5</span>
<span class="t " style="left:272.9px;top:974.9px;font-size:13.5px;">103</span>
<span class="t " style="left:320.0px;top:975.4px;font-size:14px;">Ø15</span>
<span class="t " style="left:350.5px;top:968.0px;font-size:19.5px;-webkit-text-stroke-width:0;color:#222">×</span>
<span class="t " style="left:366.0px;top:975.1px;font-size:14.5px;">25-</span>
<span class="t " style="left:409.0px;top:976.4px;font-size:14px;">Ø15</span>
<span class="t " style="left:465.0px;top:975.9px;font-size:13.5px;">381.5</span>
<span class="t " style="left:521.7px;top:975.9px;font-size:13.5px;">19</span>
<span class="t " style="left:577.3px;top:975.9px;font-size:13.5px;">182</span>
<span class="t " style="left:634.6px;top:975.9px;font-size:13.5px;">142</span>
<span class="t " style="left:691.0px;top:975.9px;font-size:13.5px;">113</span>
<span class="t " style="left:747.0px;top:975.9px;font-size:13.5px;">66.5</span>
<span class="t " style="left:12.0px;top:1006.4px;font-size:13.5px;">2BV5 161</span>
<span class="t " style="left:113.0px;top:1006.4px;font-size:13.5px;">161V</span>
<span class="t " style="left:221.5px;top:1003.9px;font-size:13.5px;">808</span>
<span class="t " style="left:272.9px;top:1003.9px;font-size:13.5px;">138</span>
<span class="t " style="left:320.0px;top:1004.4px;font-size:14px;">Ø15</span>
<span class="t " style="left:350.5px;top:997.0px;font-size:19.5px;-webkit-text-stroke-width:0;color:#222">×</span>
<span class="t " style="left:366.0px;top:1004.1px;font-size:14.5px;">27-</span>
<span class="t " style="left:409.0px;top:1005.4px;font-size:14px;">Ø15</span>
<span class="t " style="left:465.0px;top:1004.9px;font-size:13.5px;">450</span>
<span class="t " style="left:521.7px;top:1004.9px;font-size:13.5px;">22</span>
<span class="t " style="left:577.3px;top:1004.9px;font-size:13.5px;">200</span>
<span class="t " style="left:634.6px;top:1004.9px;font-size:13.5px;">156</span>
<span class="t " style="left:691.0px;top:1004.9px;font-size:13.5px;">130</span>
<span class="t " style="left:747.0px;top:1004.9px;font-size:13.5px;">80</span>
<span class="t cjk" style="left:12.0px;top:1058.2px;font-size:13px;color:#2a2a2a;-webkit-text-stroke-width:0">型&nbsp;号</span>
<span class="t cjk" style="left:113.0px;top:1058.2px;font-size:13px;color:#2a2a2a;-webkit-text-stroke-width:0">曲&nbsp;线&nbsp;编&nbsp;号</span>
<span class="t " style="left:12.0px;top:1088.8px;font-size:13.5px;">Type</span>
<span class="t " style="left:113.0px;top:1088.8px;font-size:13.5px;">Curve No.</span>
<span class="t " style="left:221.0px;top:1084.0px;font-size:12.5px;letter-spacing:-1.5px">W1</span>
<span class="t " style="left:272.5px;top:1084.0px;font-size:12.5px;letter-spacing:-1.5px">W2</span>
<span class="t " style="left:331.3px;top:1086.2px;font-size:13.5px;">W3</span>
<span class="t " style="left:401.8px;top:1084.4px;font-size:13.3px;">d(N1.0,N2.0)</span>
<span class="t " style="left:513.9px;top:1084.5px;font-size:13px;">N3.0</span>
<span class="t " style="left:636.9px;top:1084.5px;font-size:13px;">N4.2</span>
<span class="t " style="left:760.4px;top:1084.5px;font-size:13px;">N8.7</span>
<span class="t " style="left:12.0px;top:1118.4px;font-size:13.5px;">2BV5 110</span>
<span class="t " style="left:113.0px;top:1118.4px;font-size:13.5px;">101V</span>
<span class="t " style="left:221.0px;top:1112.7px;font-size:13.5px;">180</span>
<span class="t " style="left:272.5px;top:1112.7px;font-size:13.5px;">52</span>
<span class="t " style="left:330.0px;top:1116.2px;font-size:13.5px;">27</span>
<span class="t " style="left:402.0px;top:1112.9px;font-size:14.5px;">DN50</span>
<span class="t " style="left:513.9px;top:1113.2px;font-size:13.5px;">3/4"(<span style="font-size:13px;letter-spacing:1.2px;position:relative;top:-2px;-webkit-text-stroke-width:0">丝长</span> 24)</span>
<span class="t " style="left:636.9px;top:1113.2px;font-size:13.5px;">G 3/8"(<span style="font-size:13px;letter-spacing:1.2px;position:relative;top:-2px;-webkit-text-stroke-width:0">丝长</span>25)</span>
<span class="t " style="left:760.4px;top:1113.2px;font-size:13.5px;">G 3/8"(<span style="font-size:13px;letter-spacing:1.2px;position:relative;top:-2px;-webkit-text-stroke-width:0">丝长</span> 11)</span>
<span class="t " style="left:513.9px;top:1142.0px;font-size:13.5px;">(24deep)</span>
<span class="t " style="left:636.9px;top:1142.0px;font-size:13.5px;">(25deep)</span>
<span class="t " style="left:760.4px;top:1142.0px;font-size:13.5px;">(11deep)</span>
<span class="t " style="left:12.0px;top:1176.4px;font-size:13.5px;">2BV5 111</span>
<span class="t " style="left:113.0px;top:1176.4px;font-size:13.5px;">111V</span>
<span class="t " style="left:221.0px;top:1170.7px;font-size:13.5px;">180</span>
<span class="t " style="left:272.5px;top:1170.7px;font-size:13.5px;">52</span>
<span class="t " style="left:330.0px;top:1174.2px;font-size:13.5px;">27</span>
<span class="t " style="left:402.0px;top:1170.9px;font-size:14.5px;">DN50</span>
<span class="t " style="left:513.9px;top:1171.2px;font-size:13.5px;">3/4"(<span style="font-size:13px;letter-spacing:1.2px;position:relative;top:-2px;-webkit-text-stroke-width:0">丝长</span> 24)</span>
<span class="t " style="left:636.9px;top:1171.2px;font-size:13.5px;">G 3/8"(<span style="font-size:13px;letter-spacing:1.2px;position:relative;top:-2px;-webkit-text-stroke-width:0">丝长</span>25)</span>
<span class="t " style="left:760.4px;top:1171.2px;font-size:13.5px;">G 3/8"(<span style="font-size:13px;letter-spacing:1.2px;position:relative;top:-2px;-webkit-text-stroke-width:0">丝长</span> 11)</span>
<span class="t " style="left:513.9px;top:1200.0px;font-size:13.5px;">(24deep)</span>
<span class="t " style="left:636.9px;top:1200.0px;font-size:13.5px;">(25deep)</span>
<span class="t " style="left:760.4px;top:1200.0px;font-size:13.5px;">(11deep)</span>
<span class="t " style="left:12.0px;top:1234.4px;font-size:13.5px;">2BV5 121</span>
<span class="t " style="left:113.0px;top:1234.4px;font-size:13.5px;">121V</span>
<span class="t " style="left:221.0px;top:1228.7px;font-size:13.5px;">200</span>
<span class="t " style="left:272.5px;top:1228.7px;font-size:13.5px;">57</span>
<span class="t " style="left:330.0px;top:1232.2px;font-size:13.5px;">29</span>
<span class="t " style="left:402.0px;top:1228.9px;font-size:14.5px;">DN65</span>
<span class="t " style="left:513.9px;top:1229.2px;font-size:13.5px;">3/4"(<span style="font-size:13px;letter-spacing:1.2px;position:relative;top:-2px;-webkit-text-stroke-width:0">丝长</span> 24)</span>
<span class="t " style="left:636.9px;top:1229.2px;font-size:13.5px;">G 3/8"(<span style="font-size:13px;letter-spacing:1.2px;position:relative;top:-2px;-webkit-text-stroke-width:0">丝长</span>25)</span>
<span class="t " style="left:760.4px;top:1229.2px;font-size:13.5px;">G 3/8"(<span style="font-size:13px;letter-spacing:1.2px;position:relative;top:-2px;-webkit-text-stroke-width:0">丝长</span> 11)</span>
<span class="t " style="left:513.9px;top:1258.0px;font-size:13.5px;">(24deep)</span>
<span class="t " style="left:636.9px;top:1258.0px;font-size:13.5px;">(25deep)</span>
<span class="t " style="left:760.4px;top:1258.0px;font-size:13.5px;">(11deep)</span>
<span class="t " style="left:12.0px;top:1292.4px;font-size:13.5px;">2BV5 131</span>
<span class="t " style="left:113.0px;top:1292.4px;font-size:13.5px;">131V</span>
<span class="t " style="left:221.0px;top:1286.7px;font-size:13.5px;">200</span>
<span class="t " style="left:272.5px;top:1286.7px;font-size:13.5px;">57</span>
<span class="t " style="left:330.0px;top:1290.2px;font-size:13.5px;">29</span>
<span class="t " style="left:402.0px;top:1286.9px;font-size:14.5px;">DN65</span>
<span class="t " style="left:513.9px;top:1287.2px;font-size:13.5px;">3/4"(<span style="font-size:13px;letter-spacing:1.2px;position:relative;top:-2px;-webkit-text-stroke-width:0">丝长</span> 24)</span>
<span class="t " style="left:636.9px;top:1287.2px;font-size:13.5px;">G 3/8"(<span style="font-size:13px;letter-spacing:1.2px;position:relative;top:-2px;-webkit-text-stroke-width:0">丝长</span>25)</span>
<span class="t " style="left:760.4px;top:1287.2px;font-size:13.5px;">G 3/8"(<span style="font-size:13px;letter-spacing:1.2px;position:relative;top:-2px;-webkit-text-stroke-width:0">丝长</span> 11)</span>
<span class="t " style="left:513.9px;top:1316.0px;font-size:13.5px;">(24deep)</span>
<span class="t " style="left:636.9px;top:1316.0px;font-size:13.5px;">(25deep)</span>
<span class="t " style="left:760.4px;top:1316.0px;font-size:13.5px;">(11deep)</span>
<span class="t " style="left:12.0px;top:1350.4px;font-size:13.5px;">2BV5 161</span>
<span class="t " style="left:113.0px;top:1350.4px;font-size:13.5px;">161V</span>
<span class="t " style="left:221.0px;top:1344.7px;font-size:13.5px;">250</span>
<span class="t " style="left:272.5px;top:1344.7px;font-size:13.5px;">81</span>
<span class="t " style="left:330.0px;top:1348.2px;font-size:13.5px;">41</span>
<span class="t " style="left:402.0px;top:1344.9px;font-size:14.5px;">DN80</span>
<span class="t " style="left:513.9px;top:1345.2px;font-size:13.5px;">3/4"(<span style="font-size:13px;letter-spacing:1.2px;position:relative;top:-2px;-webkit-text-stroke-width:0">丝长</span> 24)</span>
<span class="t " style="left:636.9px;top:1345.2px;font-size:13.5px;">G 3/8"(<span style="font-size:13px;letter-spacing:1.2px;position:relative;top:-2px;-webkit-text-stroke-width:0">丝长</span>25)</span>
<span class="t " style="left:760.4px;top:1345.2px;font-size:13.5px;">G 3/8"(<span style="font-size:13px;letter-spacing:1.2px;position:relative;top:-2px;-webkit-text-stroke-width:0">丝长</span> 11)</span>
<span class="t " style="left:513.9px;top:1374.0px;font-size:13.5px;">(24deep)</span>
<span class="t " style="left:636.9px;top:1374.0px;font-size:13.5px;">(25deep)</span>
<span class="t " style="left:760.4px;top:1374.0px;font-size:13.5px;">(11deep)</span>
</body></html>
